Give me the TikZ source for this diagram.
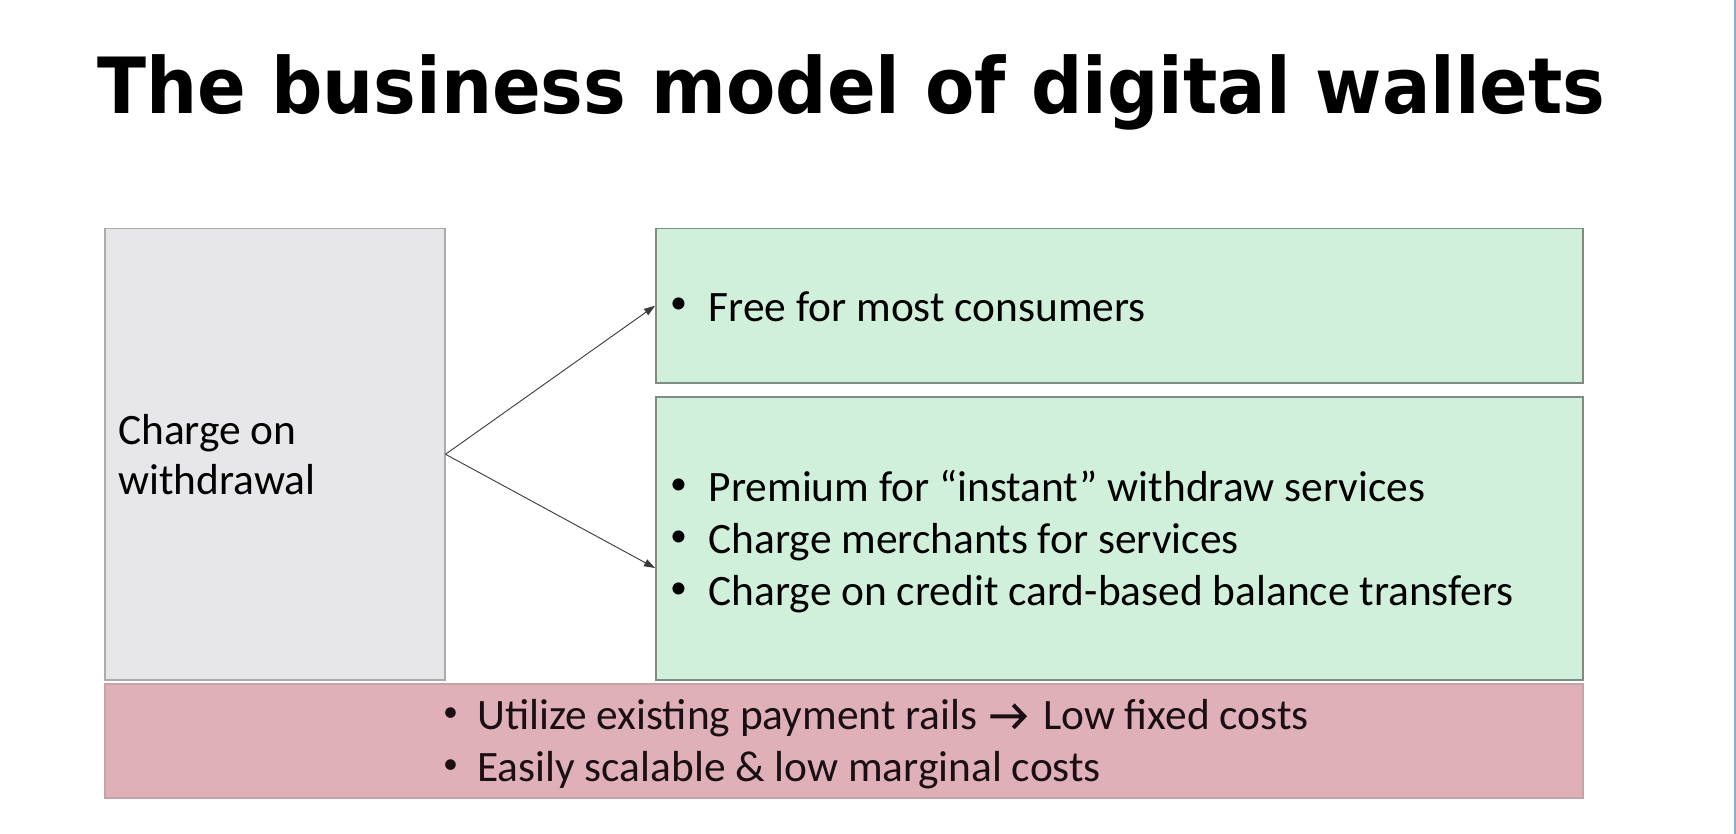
\documentclass[tikz,border=0pt]{standalone}
\usepackage{fontspec}
\setmainfont{Carlito}
\newfontfamily\titlefont{DejaVu Sans Bold}
\usetikzlibrary{arrows.meta,calc}

\definecolor{greyfill}{HTML}{E7E6E9}
\definecolor{greyline}{HTML}{ABABAB}
\definecolor{greenfill}{HTML}{D1F0DC}
\definecolor{greenline}{HTML}{7F8C84}
\definecolor{pinkfill}{HTML}{E0B0B9}
\definecolor{pinkline}{HTML}{C6A3A9}
\definecolor{edgeblue}{HTML}{8EAADB}
\definecolor{arrowgrey}{HTML}{3A3A3A}
\definecolor{inktext}{HTML}{1A0F12}

% small raised bullet: #1 = hang width, #2 = bullet size
\newcommand{\bul}[2]{\makebox[#1][l]{\raisebox{0.18em}{\fontsize{#2}{#2}\selectfont\char"2022}}}
% heavy inline arrow symbol
\newcommand{\heavyarrow}{\tikz[x=1pt,y=1pt,baseline=0pt]{%
  \path (0,0) rectangle (46,1);
  \draw[line width=4pt, line join=miter, inktext] (3,13) -- (37,13) (26,24.5) -- (37,13) -- (26,1.5);}}

\begin{document}
\begin{tikzpicture}[x=1pt,y=-1pt,
  panel/.style={draw, line width=1.5pt, anchor=north west, inner sep=0pt},
  greypanel/.style={panel, fill=greyfill, draw=greyline},
  greenpanel/.style={panel, fill=greenfill, draw=greenline},
  pinkpanel/.style={panel, fill=pinkfill, draw=pinkline},
  bodytext/.style={anchor=west, align=left, inner sep=0pt, font=\fontsize{43.4}{52}\selectfont},
  link/.style={draw=arrowgrey, line width=0.9pt, -{Triangle[length=11pt,width=7.5pt]}}
]
% page
\path[use as bounding box, fill=white] (0,0) rectangle (1736,834);
\draw[edgeblue, line width=2pt] (1735,0) -- (1735,834);

% heading
\node[anchor=base west, inner sep=0pt] (title) at (97,114)
  {\scalebox{0.927}[1]{\fontsize{77.5}{80}\titlefont The business model of digital wallets}};

% panels
\node[greypanel, minimum width=340pt, minimum height=451pt] (charge) at (104,228) {};
\node[greenpanel, minimum width=927pt, minimum height=154pt] (free) at (655,228) {};
\node[greenpanel, minimum width=927pt, minimum height=283pt] (paid) at (655,396) {};
\node[pinkpanel, minimum width=1478pt, minimum height=114pt] (costs) at (104,683) {};

% panel texts
\node[bodytext, font=\fontsize{43.4}{50}\selectfont] (chargetext) at (118,455) {Charge on\\withdrawal};
\node[bodytext] (freetext) at (670,307) {\bul{38.5pt}{34}Free for most consumers};
\node[bodytext] (paidtext) at (670,542) {%
  \bul{38.5pt}{34}Premium for “instant” withdraw services\\
  \bul{38.5pt}{34}Charge merchants for services\\
  \bul{38.5pt}{34}Charge on credit card-based balance transfers};
\node[bodytext, text=inktext] (coststext) at (443,744) {%
  \bul{34pt}{30}Utilize existing payment rails \heavyarrow\ Low fixed costs\\
  \bul{34pt}{30}Easily scalable \& low marginal costs};

% connectors
\coordinate (paidin) at ($(paid.north west)+(0,172)$);
\draw[link] (charge.east) -- (free.west);
\draw[link] (charge.east) -- (paidin);
\end{tikzpicture}
\end{document}
